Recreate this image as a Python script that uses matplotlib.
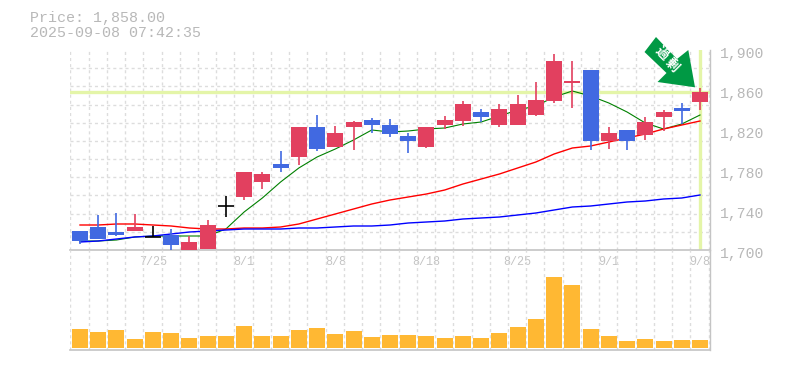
import matplotlib
matplotlib.use('Agg')
import matplotlib.pyplot as plt
import numpy as np
from matplotlib.patches import Polygon
from matplotlib.transforms import ScaledTranslation

opens = [1719, 1723, 1718, 1719, 1713, 1715, 1699, 1701, 1744, 1753, 1768, 1786, 1793, 1823, 1803, 1823, 1830, 1825,
         1814, 1803, 1825, 1829, 1838, 1825, 1825, 1835, 1849, 1867, 1880, 1809, 1820, 1815, 1833, 1842, 1848]
closes = [1709, 1711, 1715, 1723, 1713, 1705, 1708, 1725, 1744, 1778, 1776, 1782, 1823, 1801, 1817, 1828, 1825, 1816,
          1809, 1823, 1830, 1846, 1833, 1841, 1846, 1850, 1889, 1869, 1809, 1817, 1809, 1828, 1838, 1839, 1858]
highs = [1719, 1735, 1737, 1736, 1724, 1721, 1714, 1730, 1754, 1778, 1778, 1799, 1823, 1835, 1824, 1829, 1832, 1831,
         1817, 1823, 1834, 1849, 1841, 1846, 1855, 1868, 1896, 1889, 1880, 1823, 1820, 1833, 1840, 1847, 1862]
lows = [1706, 1711, 1714, 1719, 1713, 1699, 1699, 1701, 1733, 1750, 1761, 1778, 1785, 1799, 1803, 1800, 1817, 1813,
        1797, 1802, 1821, 1824, 1828, 1823, 1825, 1834, 1847, 1842, 1800, 1801, 1800, 1810, 1819, 1826, 1840]
ma_short = [1709, 1709, 1710, 1713, 1714, 1714, 1714, 1714, 1721, 1738, 1752, 1768, 1782, 1793, 1801, 1810, 1820, 1818,
            1819, 1821, 1822, 1826, 1828, 1834, 1840, 1844, 1853, 1859, 1854, 1847, 1838, 1827, 1821, 1826, 1835]
ma_mid = [1725, 1725, 1726, 1726, 1725, 1724, 1722, 1721, 1721, 1722, 1722, 1723, 1726, 1731, 1736, 1741, 1746, 1750,
          1753, 1756, 1760, 1766, 1771, 1776, 1782, 1788, 1796, 1802, 1804, 1808, 1812, 1816, 1821, 1825, 1829]
ma_long = [1708, 1709, 1711, 1713, 1714, 1716, 1718, 1719, 1720, 1721, 1721, 1721, 1722, 1722, 1723, 1724, 1724, 1725,
           1727, 1728, 1729, 1731, 1732, 1733, 1735, 1737, 1740, 1743, 1744, 1746, 1748, 1749, 1751, 1752, 1755]
volumes = [19, 16, 18, 9, 16, 15, 10, 12, 12, 22, 12, 12, 18, 20, 14, 17, 11, 13,
           13, 12, 10, 12, 10, 15, 21, 29, 71, 63, 19, 12, 7, 9, 7, 8, 8]
date_pos = [4, 9, 14, 19, 24, 29, 34]
date_labels = ['7/25', '8/1', '8/8', '8/18', '8/25', '9/1', '9/8']
price_ticks = [1700, 1740, 1780, 1820, 1860, 1900]
price_labels = ['1,700', '1,740', '1,780', '1,820', '1,860', '1,900']
last_price = 1858
title_lines = ['Price: 1,858.00', '2025-09-08 07:42:35']

W, H = 785, 370
RED = '#e2405f'
BLUE = '#4169e1'
GRID = '#dddddd'
AXIS = '#c4c4c4'
TEXT = '#b8b8b8'
MONO = 'Liberation Mono'


def px_axes(left, top, right, bottom):
    return [left / W, 1 - bottom / H, (right - left) / W, (bottom - top) / H]


fig = plt.figure(figsize=(W / 100, H / 100), dpi=100, facecolor='white')
ax = fig.add_axes(px_axes(70, 50, 710, 250))
vol = fig.add_axes(px_axes(70, 250, 710, 350), sharex=ax)
vol.patch.set_alpha(0)

xs = np.arange(len(closes))
grid_x = np.arange(len(closes) + 1) - 0.53
bar_w = 16 / 18.235

for a in (ax, vol):
    a.set_xlim(-0.548, 34.548)
    a.set_xticks(grid_x, minor=True)
    a.grid(which='minor', axis='x', color=GRID, lw=1, ls=(0, (2.2, 2.2)))
    a.set_axisbelow(True)
    a.tick_params(which='both', length=0)
    for s in ('top', 'left'):
        a.spines[s].set_visible(False)
    a.spines['bottom'].set_color(AXIS)
    a.spines['bottom'].set_linewidth(1.2)
    a.spines['right'].set_color(AXIS)
    a.spines['right'].set_linewidth(1.0)

# price panel
ax.set_ylim(1700, 1900)
ax.set_yticks(np.linspace(1700, 1900, 12), minor=True)
ax.grid(which='minor', axis='y', color=GRID, lw=1, ls=(0, (2.2, 2.2)))
ax.axhline(last_price, color='#e4f5a8', lw=2.4, zorder=1)
ax.axvline(xs[-1], ymin=0.01, ymax=0.995, color='#e4f5a8', lw=2.4, zorder=1)

ax.plot(xs, ma_short, color='green', lw=0.8, zorder=2)
ax.plot(xs, ma_mid, color='red', lw=1.0, zorder=2)
ax.plot(xs, ma_long, color='blue', lw=1.0, zorder=2)

for i in xs:
    o, c = opens[i], closes[i]
    col = 'black' if o == c else (RED if c > o else BLUE)
    ax.vlines(i, lows[i], highs[i], color=col, lw=1.2, zorder=3)
    if o == c:
        ax.hlines(c, i - bar_w / 2, i + bar_w / 2, color=col, lw=1.2, zorder=3)
    else:
        ax.bar(i, abs(c - o), bottom=min(o, c), width=bar_w, color=col, lw=0, zorder=3)

ax.set_xticks(date_pos)
ax.set_xticklabels(date_labels, family=MONO, fontsize=8.5, color='#c4c4c4')
ax.tick_params(axis='x', which='major', pad=4)
ax.yaxis.tick_right()
ax.set_yticks(price_ticks)
ax.set_yticklabels(price_labels, family=MONO, fontsize=10.6, color=TEXT)
ax.tick_params(axis='y', which='major', pad=7.5)
for lab in ax.get_yticklabels():
    lab.set_transform(lab.get_transform() + ScaledTranslation(0, -2 / 72, fig.dpi_scale_trans))

# volume panel
vol.bar(xs, volumes, width=bar_w, color='#ffb833', lw=0, zorder=3)
vol.set_ylim(-2, 98)
vol.set_yticks([])
plt.setp(vol.get_xticklabels(), visible=False)

# header
for y, line in zip((18, 33), title_lines):
    fig.text(30 / W, 1 - y / H, line, family=MONO, fontsize=10.8, color=TEXT, va='center', ha='left')

# arrow badge
arrow_px = [(656, 37), (644.5, 52), (666.5, 73), (657.5, 82), (695, 87.3), (688.3, 50), (677, 59)]
fig.add_artist(Polygon([(x / W, 1 - y / H) for x, y in arrow_px], closed=True, facecolor='#009944',
                       edgecolor='none', transform=fig.transFigure, zorder=5))
for (x, y), ch in zip([(661.5, 53), (672, 65)], '過剰'):
    fig.text(x / W, 1 - y / H, ch, family=['Noto Sans CJK JP', 'DejaVu Sans'], fontsize=9.5, fontweight='bold',
             color='white', rotation=-45, ha='center', va='center', zorder=6)

fig.savefig('out.png', dpi=100)
